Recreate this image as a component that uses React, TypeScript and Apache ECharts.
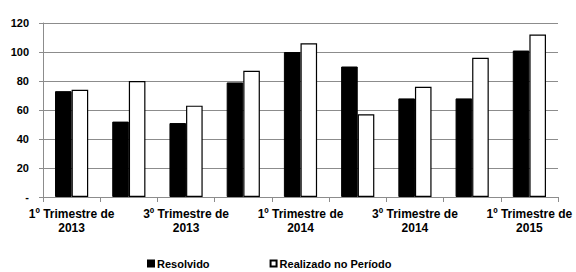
import React, { useEffect, useRef } from "react";
import * as echarts from "echarts";

const categories = [
  "1º Trimestre de 2013",
  "2º Trimestre de 2013",
  "3º Trimestre de 2013",
  "4º Trimestre de 2013",
  "1º Trimestre de 2014",
  "2º Trimestre de 2014",
  "3º Trimestre de 2014",
  "4º Trimestre de 2014",
  "1º Trimestre de 2015",
];
const resolvido = [73, 52, 51, 79, 100, 90, 68, 68, 101];
const realizado = [74, 80, 63, 87, 106, 57, 76, 96, 112];
const seriesNames = ["Resolvido", "Realizado no Período"];

const FONT = "'Liberation Sans', Arial, sans-serif";

export default function App() {
  const ref = useRef<HTMLDivElement>(null);
  useEffect(() => {
    if (!ref.current) return;
    const chart = echarts.init(ref.current, undefined, { renderer: "svg" });
    chart.setOption({
      animation: false,
      backgroundColor: "#fff",
      textStyle: { fontFamily: FONT },
      grid: { left: 43, right: 18, top: 23, bottom: 75, containLabel: false },
      legend: {
        left: 147,
        top: 258,
        padding: 0,
        itemWidth: 6,
        itemHeight: 6,
        itemGap: 60,
        icon: "rect",
        textStyle: { fontFamily: FONT, fontSize: 11, fontWeight: "bold", color: "#000", padding: [0, 0, 0, -2] },
        data: seriesNames,
      },
      xAxis: {
        type: "category",
        data: categories,
        axisLine: { show: true, lineStyle: { color: "#8c8c8c", width: 1 } },
        axisTick: { show: true, interval: 0, length: 5, lineStyle: { color: "#8c8c8c" } },
        axisLabel: {
          interval: 1,
          margin: 10,
          fontFamily: FONT,
          fontSize: 12,
          fontWeight: "bold",
          color: "#000",
          lineHeight: 14,
          formatter: (v: string) => v.replace(/ (\d{4})$/, "\n$1"),
        },
        splitLine: { show: false },
      },
      yAxis: {
        type: "value",
        min: 0,
        max: 120,
        interval: 20,
        axisLine: { show: true, lineStyle: { color: "#8c8c8c", width: 1 } },
        axisTick: { show: true, length: 4, lineStyle: { color: "#8c8c8c" } },
        axisLabel: {
          margin: 14,
          fontFamily: FONT,
          fontSize: 11,
          fontWeight: "bold",
          color: "#000",
          formatter: (v: number) => (v === 0 ? "-" : String(v)),
        },
        splitLine: { show: true, lineStyle: { color: "#8c8c8c", width: 1 } },
      },
      series: [
        {
          name: seriesNames[0],
          type: "bar",
          data: resolvido,
          barGap: "0%",
          barCategoryGap: "42%",
          itemStyle: { color: "#000", borderColor: "#000", borderWidth: 1 },
        },
        {
          name: seriesNames[1],
          type: "bar",
          data: realizado,
          barGap: "0%",
          barCategoryGap: "42%",
          itemStyle: { color: "#fff", borderColor: "#000", borderWidth: 1.2 },
        },
      ],
    });
    return () => chart.dispose();
  }, []);
  return (
    <div
      ref={ref}
      style={{ position: "fixed", left: 0, top: 0, width: 576, height: 272 }}
    />
  );
}
